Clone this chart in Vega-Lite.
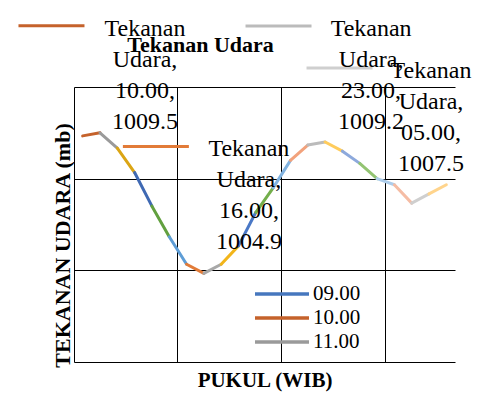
{
  "$schema": "https://vega.github.io/schema/vega-lite/v6.json",
  "width": 381,
  "height": 275,
  "autosize": {"type": "none"},
  "padding": {"left": 74, "top": 87, "right": 25, "bottom": 52},
  "background": "white",
  "config": {"view": {"stroke": null}, "font": "Liberation Serif"},
  "title": {"text": "Tekanan Udara", "font": "Liberation Serif", "fontSize": 22, "fontWeight": "bold", "color": "#000000", "anchor": "middle", "frame": "group", "dx": -64, "offset": -57, "baseline": "alphabetic"},
  "data": {"values": [
    {"jam": "09.00", "tekanan": 1009.4},
    {"jam": "10.00", "tekanan": 1009.5},
    {"jam": "11.00", "tekanan": 1009.0},
    {"jam": "12.00", "tekanan": 1008.2},
    {"jam": "13.00", "tekanan": 1007.1},
    {"jam": "14.00", "tekanan": 1006.1},
    {"jam": "15.00", "tekanan": 1005.2},
    {"jam": "16.00", "tekanan": 1004.9},
    {"jam": "17.00", "tekanan": 1005.2},
    {"jam": "18.00", "tekanan": 1005.8},
    {"jam": "19.00", "tekanan": 1006.9},
    {"jam": "20.00", "tekanan": 1007.7},
    {"jam": "21.00", "tekanan": 1008.6},
    {"jam": "22.00", "tekanan": 1009.1},
    {"jam": "23.00", "tekanan": 1009.2},
    {"jam": "00.00", "tekanan": 1008.9},
    {"jam": "01.00", "tekanan": 1008.5},
    {"jam": "02.00", "tekanan": 1008.0},
    {"jam": "03.00", "tekanan": 1007.8},
    {"jam": "04.00", "tekanan": 1007.2},
    {"jam": "05.00", "tekanan": 1007.5},
    {"jam": "06.00", "tekanan": 1007.8}
  ]},
  "encoding": {
    "x": {
      "field": "jam", "type": "ordinal", "bandPosition": 0.5,
      "scale": {"type": "band", "paddingInner": 0, "paddingOuter": 0,
        "domain": ["09.00","10.00","11.00","12.00","13.00","14.00","15.00","16.00","17.00","18.00","19.00","20.00","21.00","22.00","23.00","00.00","01.00","02.00","03.00","04.00","05.00","06.00"]},
      "axis": {"title": "PUKUL (WIB)", "labels": false, "ticks": false, "domain": false, "grid": true, "gridColor": "#000000", "gridOpacity": 1, "gridWidth": 1,
        "values": ["09.00","15.00","21.00","03.00"], "bandPosition": 0,
        "titleFont": "Liberation Serif", "titleFontSize": 21, "titleFontWeight": "bold", "titleColor": "#000000", "titleBaseline": "alphabetic", "titleY": 24}
    },
    "y": {
      "field": "tekanan", "type": "quantitative",
      "scale": {"domain": [1002, 1011], "nice": false, "zero": false},
      "axis": {"title": "TEKANAN UDARA (mb)", "labels": false, "ticks": false, "domain": false, "grid": true, "gridColor": "#000000", "gridOpacity": 1, "gridWidth": 1,
        "values": [1002, 1005, 1008, 1011],
        "titleFont": "Liberation Serif", "titleFontSize": 22, "titleFontWeight": "bold", "titleColor": "#000000", "titleAngle": 270, "titleAlign": "center", "titleAnchor": null, "titleBaseline": "alphabetic", "titleX": -5, "titleY": 158}
    }
  },
  "layer": [
    {
      "transform": [
        {"window": [{"op": "lead", "field": "jam", "as": "jam_akhir"}, {"op": "lead", "field": "tekanan", "as": "tekanan_akhir"}]},
        {"filter": "datum.jam_akhir != null"}
      ],
      "mark": {"type": "rule", "strokeWidth": 3, "strokeCap": "round"},
      "encoding": {
        "x2": {"field": "jam_akhir", "bandPosition": 0.5},
        "y2": {"field": "tekanan_akhir"},
        "color": {
          "field": "jam_akhir", "type": "nominal",
          "scale": {
            "domain": ["09.00","10.00","11.00","12.00","13.00","14.00","15.00","16.00","17.00","18.00","19.00","20.00","21.00","22.00","23.00","00.00","01.00","02.00","03.00","04.00","05.00","06.00"],
            "range": ["#4677BE","#C5622B","#9A9A9A","#DBA514","#3F69B3","#62A03F","#5E9DD6","#E27B38","#A8A8A8","#F2B51A","#4A78C6","#73AE4B","#82B3E0","#F2A27C","#BBBBBB","#FFCC5C","#8DA9DC","#93C472","#ADCDEB","#F5BCA4","#CFCFCF","#FFD48C"]
          },
          "legend": {"values": ["09.00","10.00","11.00"], "orient": "none", "legendX": 196, "legendY": 195, "title": null, "symbolType": "M-2.7,0H2.7", "symbolSize": 400, "symbolStrokeWidth": 3.5, "labelFont": "Liberation Serif", "labelFontSize": 21, "labelColor": "#000000", "labelOffset": 19, "padding": 0, "rowPadding": 2}
        }
      }
    },
    {
      "transform": [{"filter": "datum.jam === '10.00'"}],
      "mark": {"type": "point", "shape": "stroke", "size": 4356, "strokeWidth": 3, "filled": false, "opacity": 1, "xOffset": -48.5, "yOffset": -107},
      "encoding": {"color": {"field": "jam", "type": "nominal"}}
    },
    {
      "transform": [{"filter": "datum.jam === '23.00'"}],
      "mark": {"type": "point", "shape": "stroke", "size": 4356, "strokeWidth": 3, "filled": false, "opacity": 1, "xOffset": -46.6, "yOffset": -116},
      "encoding": {"color": {"field": "jam", "type": "nominal"}}
    },
    {
      "transform": [{"filter": "datum.jam === '05.00'"}],
      "mark": {"type": "point", "shape": "stroke", "size": 4356, "strokeWidth": 3, "filled": false, "opacity": 1, "xOffset": -89.5, "yOffset": -126},
      "encoding": {"color": {"field": "jam", "type": "nominal"}}
    },
    {
      "transform": [{"filter": "datum.jam === '16.00'"}],
      "mark": {"type": "point", "shape": "stroke", "size": 4356, "strokeWidth": 3, "filled": false, "opacity": 1, "xOffset": -48, "yOffset": -127},
      "encoding": {"color": {"field": "jam", "type": "nominal"}}
    },
    {
      "transform": [{"filter": "datum.jam === '10.00'"}, {"calculate": "['Tekanan', 'Udara,', datum.jam + ',', format(datum.tekanan, '.1f')]", "as": "label"}],
      "mark": {"type": "text", "font": "Liberation Serif", "fontSize": 24, "lineHeight": 31, "baseline": "alphabetic", "align": "center", "dx": 45, "dy": -97, "color": "#000000"},
      "encoding": {"text": {"field": "label"}}
    },
    {
      "transform": [{"filter": "datum.jam === '23.00'"}, {"calculate": "['Tekanan', 'Udara,', datum.jam + ',', format(datum.tekanan, '.1f')]", "as": "label"}],
      "mark": {"type": "text", "font": "Liberation Serif", "fontSize": 24, "lineHeight": 31, "baseline": "alphabetic", "align": "center", "dx": 46, "dy": -106, "color": "#000000"},
      "encoding": {"text": {"field": "label"}}
    },
    {
      "transform": [{"filter": "datum.jam === '05.00'"}, {"calculate": "['Tekanan', 'Udara,', datum.jam + ',', format(datum.tekanan, '.1f')]", "as": "label"}],
      "mark": {"type": "text", "font": "Liberation Serif", "fontSize": 24, "lineHeight": 31, "baseline": "alphabetic", "align": "center", "dx": 2, "dy": -116, "color": "#000000"},
      "encoding": {"text": {"field": "label"}}
    },
    {
      "transform": [{"filter": "datum.jam === '16.00'"}, {"calculate": "['Tekanan', 'Udara,', datum.jam + ',', format(datum.tekanan, '.1f')]", "as": "label"}],
      "mark": {"type": "text", "font": "Liberation Serif", "fontSize": 24, "lineHeight": 31, "baseline": "alphabetic", "align": "center", "dx": 45, "dy": -117, "color": "#000000"},
      "encoding": {"text": {"field": "label"}}
    }
  ]
}
